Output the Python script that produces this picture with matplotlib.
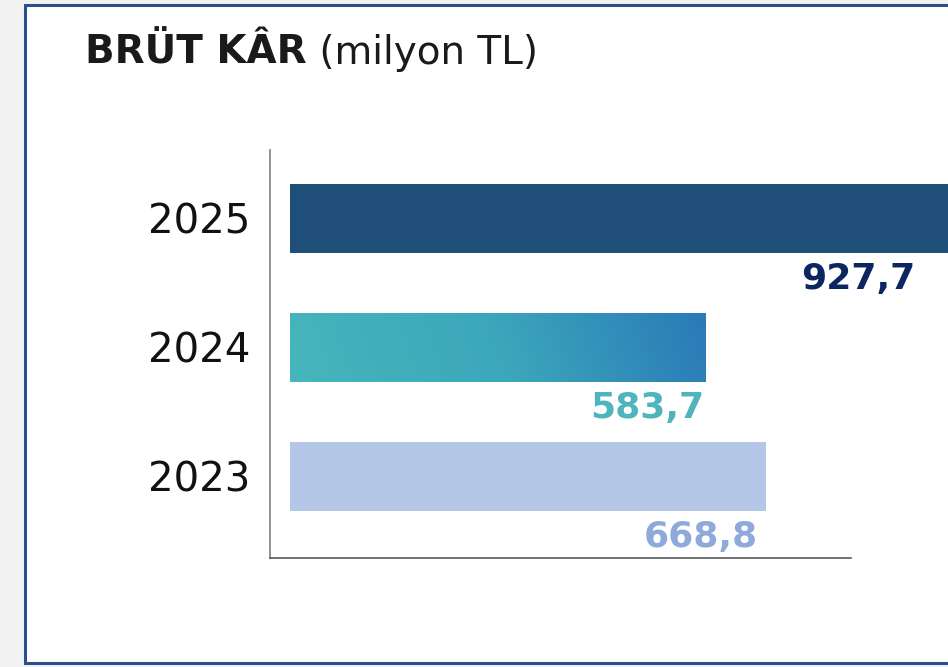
import numpy as np
import matplotlib
matplotlib.use("Agg")
import matplotlib.pyplot as plt
from matplotlib.patches import Rectangle
from matplotlib.colors import LinearSegmentedColormap

plt.rcParams["font.family"] = ["DejaVu Sans"]

years = ["2023", "2024", "2025"]
values = [668.8, 583.7, 927.7]
value_labels = ["668,8", "583,7", "927,7"]
bar_colors = ["#b4c7e7", None, "#1f4e79"]       # 2024 gets a gradient
label_colors = ["#8eaadb", "#4db5bb", "#0c2660"]
label_dx = [-8, -1, -35]                         # px nudge of value labels
title_bold = "BRÜT KÂR"
title_rest = " (milyon TL)"

W, H = 948, 667
fig = plt.figure(figsize=(W / 100, H / 100), dpi=100, facecolor="#f2f2f2")

# white card with blue frame
fig.patches.append(Rectangle((25 / W, 4 / H), 1.0, (662 - 4) / H,
                             transform=fig.transFigure, facecolor="white",
                             edgecolor="#2b4f8e", lw=2.2, zorder=-5))

ax = fig.add_axes([270 / W, 1 - 558 / H, (851 - 270) / W, (558 - 150) / H])
ax.set_facecolor("none")
ax.set_zorder(2)

pos = np.arange(len(years))
bars = ax.barh(pos, values, height=0.535, clip_on=False,
               color=[c if c else "white" for c in bar_colors])

# gradient fill for 2024 bar
grad = LinearSegmentedColormap.from_list("g", ["#46b6bb", "#3ca7bb", "#2a7ab8"])
b = bars[1]
xs = np.linspace(0, 1, 256)[None, :] + np.linspace(0, 0.06, 20)[:, None]
im = ax.imshow(xs, cmap=grad, aspect="auto",
               extent=(0, values[1], b.get_y(), b.get_y() + b.get_height()),
               origin="lower", zorder=3)
im.set_clip_path(b)

ax.set_xlim(-28, 788)
ax.set_ylim(-0.632, 2.531)
ax.set_yticks(pos, years, fontsize=29, color="#111111")
ax.tick_params(axis="y", length=0, pad=14)
ax.set_xticks([])
for s in ("top", "right"):
    ax.spines[s].set_visible(False)
ax.spines["left"].set_color("#7f7f7f")
ax.spines["bottom"].set_color("#595959")
ax.spines["left"].set_linewidth(1.2)
ax.spines["bottom"].set_linewidth(1.2)

for p, v, t, c, dx in zip(pos, values, value_labels, label_colors, label_dx):
    ax.annotate(t, (v, p - 0.47), xytext=(dx * 0.72, 0), textcoords="offset points",
                ha="right", va="center", fontsize=26, fontweight="bold", color=c,
                annotation_clip=False)

t1 = fig.text(85 / W, 1 - 53 / H, title_bold, fontsize=28, fontweight="bold",
              color="#1a1a1a", va="center", ha="left")
fig.canvas.draw()
bb = t1.get_window_extent()
fig.text(bb.x1 / W, 1 - 53 / H, title_rest, fontsize=28, color="#1a1a1a",
         va="center", ha="left")

fig.savefig("out.png", dpi=100, facecolor=fig.get_facecolor())
